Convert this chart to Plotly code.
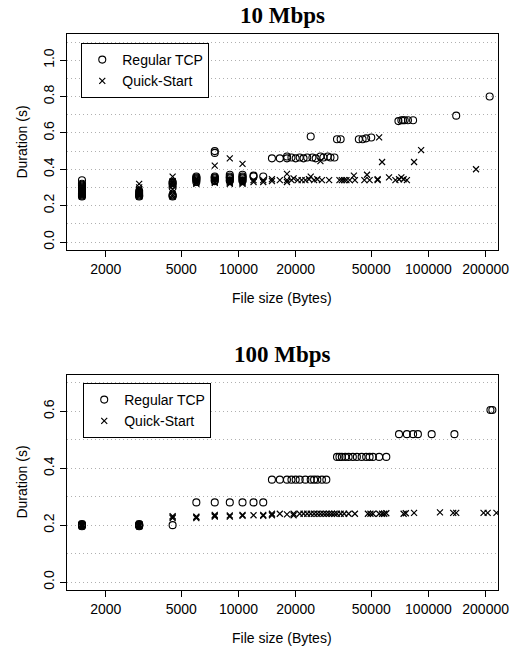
import plotly.graph_objects as go

# ---------------- data ----------------
# 10 Mbps, Regular TCP
tcp10_size = [1500]*14 + [3000]*5 + [4500]*7 + [6000]*6 + [7500]*7 + [9000]*6 + [10500]*6 + \
    [12000, 12000, 13500] + \
    [15000, 16500, 18000, 18000, 19000, 20000, 21000, 22000, 23000, 24500, 25500, 27000, 28000, 29500, 30500, 32000] + \
    [24000, 33000, 34500, 43000, 45000, 47000, 50000] + \
    [69500, 72000, 73500, 75000, 78000, 83000, 140000, 210000]
tcp10_dur = [0.25, 0.255, 0.26, 0.265, 0.27, 0.275, 0.28, 0.29, 0.295, 0.30, 0.31, 0.315, 0.32, 0.34] + \
    [0.25, 0.255, 0.26, 0.27, 0.28] + \
    [0.25, 0.255, 0.26, 0.30, 0.315, 0.325, 0.33] + \
    [0.33, 0.34, 0.345, 0.35, 0.355, 0.36] + \
    [0.335, 0.34, 0.35, 0.355, 0.36, 0.49, 0.50] + \
    [0.335, 0.34, 0.35, 0.355, 0.36, 0.37] + \
    [0.335, 0.34, 0.35, 0.355, 0.36, 0.37] + \
    [0.36, 0.365, 0.36] + \
    [0.46, 0.46, 0.46, 0.47, 0.465, 0.46, 0.465, 0.46, 0.465, 0.465, 0.46, 0.47, 0.465, 0.47, 0.465, 0.465] + \
    [0.58, 0.565, 0.565, 0.565, 0.565, 0.57, 0.575] + \
    [0.665, 0.67, 0.67, 0.67, 0.67, 0.67, 0.695, 0.80]

# 10 Mbps, Quick-Start
qs10_size = [1500]*10 + [3000]*11 + [4500]*8 + [6000]*6 + [7500]*6 + [9000]*6 + [10500]*6 + \
    [12000, 12000, 13500, 13500, 15000, 15000, 16500, 18000, 18000, 18000, 19000, 19500, 20500,
     21500, 22500, 23500, 24000, 25000, 26000, 27000, 27500, 30000, 34000, 35000, 36000, 37000,
     38500, 40500, 41000, 46000, 47500, 49000, 54000, 54000, 55000, 57000, 62000, 67000, 70000,
     72000, 74000, 77000, 84000, 91500, 178000]
qs10_dur = [0.25, 0.255, 0.26, 0.265, 0.27, 0.28, 0.285, 0.29, 0.30, 0.31] + \
    [0.25, 0.255, 0.26, 0.265, 0.27, 0.275, 0.28, 0.285, 0.29, 0.30, 0.32] + \
    [0.25, 0.26, 0.29, 0.31, 0.32, 0.33, 0.335, 0.36] + \
    [0.32, 0.325, 0.33, 0.34, 0.345, 0.35] + \
    [0.325, 0.33, 0.34, 0.345, 0.35, 0.42] + \
    [0.32, 0.325, 0.33, 0.34, 0.345, 0.46] + \
    [0.32, 0.325, 0.33, 0.34, 0.345, 0.43] + \
    [0.33, 0.34, 0.33, 0.34, 0.335, 0.345, 0.34, 0.33, 0.34, 0.375, 0.34, 0.35, 0.34,
     0.34, 0.34, 0.345, 0.36, 0.34, 0.345, 0.445, 0.34, 0.34, 0.34, 0.34, 0.34, 0.34,
     0.34, 0.365, 0.34, 0.34, 0.37, 0.34, 0.34, 0.345, 0.575, 0.44, 0.355, 0.34, 0.345,
     0.355, 0.345, 0.34, 0.44, 0.505, 0.40]

# 100 Mbps, Regular TCP
tcp100_size = [1500]*6 + [3000]*6 + [4500, 6000, 7500, 9000, 10500, 12000, 13500] + \
    [15000, 16500, 18000, 19000, 20000, 21000, 22500, 24000, 25000, 26000, 27500, 29000] + \
    [33000, 34000, 35000, 36500, 38000, 40000, 42000, 44500, 47000, 49000, 51000, 55000, 60000] + \
    [70000, 77000, 83000, 88000, 104000, 137000, 212000, 217000]
tcp100_dur = [0.196, 0.198, 0.20, 0.20, 0.202, 0.204] + [0.196, 0.198, 0.20, 0.20, 0.202, 0.204] + \
    [0.20, 0.28, 0.28, 0.28, 0.28, 0.28, 0.28] + \
    [0.36]*12 + [0.44]*13 + \
    [0.52, 0.52, 0.52, 0.52, 0.52, 0.52, 0.605, 0.605]

# 100 Mbps, Quick-Start
qs100_size = [1500]*6 + [3000]*6 + [4500, 4500, 4500, 6000, 6000, 6000, 7500, 7500, 7500, 9000, 9000,
    10500, 10500, 12000, 13500, 13500,
    15000, 15000, 16500, 18000, 19500, 19500, 21000, 22000, 23000, 24000, 25000, 26000, 27000,
    28000, 29000, 30000, 31000, 32000, 33000, 34500, 36000, 38000, 41000, 48000, 49500, 51000,
    55000, 57000, 58500, 60000, 74000, 76000, 84000, 115000, 135000, 140000, 195000, 205000, 228000]
qs100_dur = [0.196, 0.198, 0.20, 0.20, 0.202, 0.204] + [0.196, 0.198, 0.20, 0.20, 0.202, 0.204] + \
    [0.225, 0.228, 0.232, 0.225, 0.228, 0.23, 0.23, 0.233, 0.236, 0.23, 0.234,
     0.233, 0.236, 0.235, 0.233, 0.236,
     0.235, 0.24, 0.24, 0.238, 0.235, 0.24, 0.24, 0.24, 0.24, 0.24, 0.24, 0.24, 0.24,
     0.24, 0.24, 0.24, 0.24, 0.24, 0.24, 0.24, 0.24, 0.24, 0.24, 0.24, 0.24, 0.24,
     0.24, 0.24, 0.24, 0.242, 0.24, 0.242, 0.243, 0.245, 0.243, 0.243, 0.243, 0.243, 0.243]

x_ticks = [2000, 5000, 10000, 20000, 50000, 100000, 200000]
x_labels = ["2000", "5000", "10000", "20000", "50000", "100000", "200000"]
titles = ["10 Mbps", "100 Mbps"]
series_names = ["Regular TCP", "Quick-Start"]

# ---------------- figure ----------------
W, H = 526, 650
SANS = "Liberation Sans, Arial, sans-serif"
SERIF = "Liberation Serif, Times New Roman, serif"

fig = go.Figure()

circ = dict(symbol="circle-open", size=7, color="black", line=dict(width=1.1, color="black"))
xmk = dict(symbol="x-thin-open", size=6, color="black", line=dict(width=1.2, color="black"))

fig.add_trace(go.Scatter(x=tcp10_size, y=tcp10_dur, mode="markers", marker=circ,
                         name=series_names[0], xaxis="x", yaxis="y", legend="legend"))
fig.add_trace(go.Scatter(x=qs10_size, y=qs10_dur, mode="markers", marker=xmk,
                         name=series_names[1], xaxis="x", yaxis="y", legend="legend"))
fig.add_trace(go.Scatter(x=tcp100_size, y=tcp100_dur, mode="markers", marker=circ,
                         name=series_names[0], xaxis="x2", yaxis="y2", legend="legend2"))
fig.add_trace(go.Scatter(x=qs100_size, y=qs100_dur, mode="markers", marker=xmk,
                         name=series_names[1], xaxis="x2", yaxis="y2", legend="legend2"))

x0, x1 = 68 / W, 509 / W
top_dom = [1 - 250 / H, 1 - 34 / H]
bot_dom = [1 - 590 / H, 1 - 375 / H]

xcommon = dict(type="log", range=[3.095, 5.368], tickvals=x_ticks, ticktext=x_labels,
               showgrid=False, zeroline=False, showline=True, mirror=True, linecolor="black",
               linewidth=1, ticks="outside", ticklen=6, tickcolor="black",
               tickfont=dict(family=SANS, size=14, color="black"), domain=[x0, x1])
grid = dict(showgrid=True, gridcolor="#b0b0b0", griddash="1px,3px", gridwidth=1)
ycommon = dict(zeroline=False, showline=True, mirror=True, linecolor="black", linewidth=1,
               ticks="outside", ticklen=6, tickcolor="black", tickangle=-90, dtick=0.2, tick0=0,
               tickformat=".1f", tickfont=dict(family=SANS, size=14, color="black"),
               minor=dict(dtick=0.1, tick0=0, ticks="", **grid), **grid)

fig.update_layout(
    width=W, height=H, margin=dict(l=0, r=0, t=0, b=0),
    paper_bgcolor="white", plot_bgcolor="white",
    xaxis=dict(anchor="y", **xcommon),
    yaxis=dict(anchor="x", domain=top_dom, range=[-0.044, 1.144], **ycommon),
    xaxis2=dict(anchor="y2", **xcommon),
    yaxis2=dict(anchor="x2", domain=bot_dom, range=[-0.028, 0.728], **ycommon),
    legend=dict(x=83 / W, y=1 - 43 / H, xanchor="left", yanchor="top", bgcolor="white",
                bordercolor="black", borderwidth=1, font=dict(family=SANS, size=14, color="black"),
                tracegroupgap=0, itemwidth=30),
    legend2=dict(x=85 / W, y=1 - 383 / H, xanchor="left", yanchor="top", bgcolor="white",
                 bordercolor="black", borderwidth=1, font=dict(family=SANS, size=14, color="black"),
                 tracegroupgap=0, itemwidth=30),
)

cx = (x0 + x1) / 2
ann = []
for t, yy in zip(titles, [1 - 15 / H, 1 - 355 / H]):
    ann.append(dict(text="<b>%s</b>" % t, x=cx, y=yy, xref="paper", yref="paper",
                    showarrow=False, font=dict(family=SERIF, size=23, color="black"),
                    xanchor="center", yanchor="middle"))
for yy in [1 - 298 / H, 1 - 638 / H]:
    ann.append(dict(text="File size (Bytes)", x=cx, y=yy, xref="paper", yref="paper",
                    showarrow=False, font=dict(family=SANS, size=14, color="black"),
                    xanchor="center", yanchor="middle"))
for yy in [1 - 142 / H, 1 - 482 / H]:
    ann.append(dict(text="Duration (s)", x=22 / W, y=yy, xref="paper", yref="paper",
                    showarrow=False, textangle=-90, font=dict(family=SANS, size=14, color="black"),
                    xanchor="center", yanchor="middle"))
fig.update_layout(annotations=ann)

fig.write_html("out.html")
